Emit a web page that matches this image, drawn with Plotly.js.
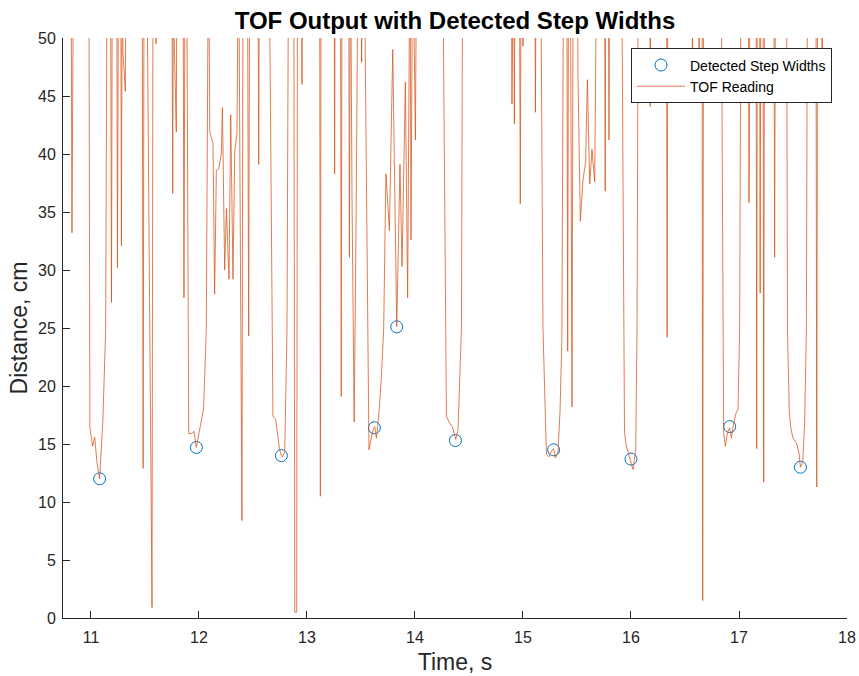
<!DOCTYPE html>
<html>
<head>
<meta charset="utf-8">
<script src="https://cdn.plot.ly/plotly-3.0.1.min.js"></script>
<style>
  html, body { margin: 0; padding: 0; background: #ffffff; }
  #chart { width: 859px; height: 676px; }
</style>
</head>
<body>
<div id="chart"></div>
<script>
// ---- Data ----
// TOF reading (cm) vs time (s); 60 marks readings above the 50 cm axis limit
const tofTime = [
  10.78, 10.815, 10.824, 10.84, 10.98, 10.99, 11.016, 11.034, 11.056, 11.08,
  11.11, 11.136, 11.15, 11.18, 11.19, 11.198, 11.238, 11.245, 11.256, 11.275,
  11.282, 11.29, 11.296, 11.318, 11.326, 11.474, 11.483, 11.492, 11.515, 11.524,
  11.565, 11.575, 11.598, 11.602, 11.606, 11.748, 11.757, 11.764, 11.772, 11.79,
  11.797, 11.852, 11.861, 11.872, 11.885, 11.905, 11.93, 11.953, 11.976, 12.006,
  12.043, 12.068, 12.082, 12.088, 12.10, 12.13, 12.145, 12.161, 12.182, 12.207,
  12.217, 12.238, 12.254, 12.278, 12.294, 12.315, 12.331, 12.352, 12.366, 12.398,
  12.408, 12.448, 12.46, 12.47, 12.545, 12.553, 12.56, 12.648, 12.685, 12.71,
  12.745, 12.763, 12.772, 12.794, 12.815, 12.83, 12.878, 12.887, 12.905, 12.912,
  12.948, 12.954, 12.96, 13.117, 13.124, 13.131, 13.25, 13.256, 13.262, 13.31,
  13.317, 13.325, 13.385, 13.393, 13.402, 13.417, 13.437, 13.454, 13.475, 13.50,
  13.506, 13.512, 13.528, 13.574, 13.611, 13.627, 13.643, 13.648, 13.667, 13.689,
  13.71, 13.731, 13.763, 13.794, 13.831, 13.861, 13.88, 13.911, 13.932, 13.954,
  13.963, 13.979, 14.004, 14.016, 14.255, 14.291, 14.321, 14.346, 14.36, 14.377,
  14.398, 14.43, 14.442, 14.89, 14.898, 14.906, 14.914, 14.92, 14.928, 14.966,
  14.975, 14.984, 14.995, 15.0, 15.006, 15.108, 15.115, 15.122, 15.163, 15.185,
  15.217, 15.24, 15.265, 15.284, 15.30, 15.324, 15.343, 15.36, 15.377, 15.405,
  15.414, 15.422, 15.442, 15.454, 15.465, 15.505, 15.509, 15.531, 15.556, 15.58,
  15.596, 15.618, 15.639, 15.664, 15.685, 15.755, 15.761, 15.768, 15.79, 15.796,
  15.803, 15.912, 15.93, 15.94, 15.957, 15.988, 16.019, 16.044, 16.056, 16.068,
  16.172, 16.178, 16.185, 16.328, 16.335, 16.342, 16.564, 16.569, 16.574, 16.625,
  16.631, 16.638, 16.658, 16.664, 16.672, 16.834, 16.858, 16.874, 16.893, 16.914,
  16.93, 16.944, 16.97, 16.991, 17.006, 17.02, 17.085, 17.093, 17.103, 17.158,
  17.164, 17.17, 17.19, 17.196, 17.203, 17.222, 17.229, 17.236, 17.322, 17.33,
  17.338, 17.44, 17.449, 17.465, 17.479, 17.5, 17.531, 17.556, 17.569, 17.59,
  17.608, 17.624, 17.635, 17.712, 17.72, 17.728, 17.765, 17.77, 17.775, 17.80
];
const tofDist = [
  60, 60, 33.2, 60, 60, 16.4, 14.8, 15.6, 13.4, 12.0,
  17.0, 24.9, 60, 60, 27.2, 60, 60, 30.2, 60, 60,
  32.1, 60, 48.8, 45.4, 60, 60, 12.9, 60, 60, 47.7,
  0.9, 60, 60, 49.5, 60, 60, 36.6, 60, 49.2, 41.9,
  60, 60, 27.6, 60, 60, 15.9, 15.9, 16.1, 14.7, 16.2,
  18.1, 24.9, 60, 60, 41.9, 40.9, 27.9, 38.6, 38.7, 40.0,
  44.0, 30.0, 35.3, 29.2, 43.4, 29.2, 40.2, 41.8, 60, 8.4,
  60, 60, 24.3, 60, 60, 39.1, 60, 60, 17.4, 17.1,
  14.6, 14.0, 13.9, 14.3, 24.9, 60, 60, 0.5, 0.5, 60,
  60, 46.0, 60, 60, 10.5, 60, 60, 38.3, 60, 60,
  19.1, 60, 60, 31.1, 60, 36.2, 16.9, 33.4, 60, 60,
  47.9, 60, 60, 14.5, 16.2, 16.5, 15.5, 16.0, 17.7, 20.8,
  24.9, 38.3, 33.4, 49.0, 25.1, 39.1, 30.3, 46.2, 27.6, 60,
  32.6, 60, 41.2, 60, 60, 17.4, 16.8, 16.5, 15.9, 15.4,
  16.2, 24.9, 60, 60, 44.3, 60, 60, 42.6, 60, 60,
  35.7, 60, 60, 49.3, 60, 60, 43.6, 60, 60, 25.0,
  14.1, 13.9, 14.4, 14.6, 13.8, 14.3, 17.8, 24.0, 60, 60,
  23.0, 60, 49.3, 18.2, 60, 60, 46.8, 34.2, 37.8, 39.3,
  46.4, 37.4, 40.4, 37.6, 60, 60, 36.8, 60, 60, 41.2,
  60, 60, 24.9, 16.0, 14.8, 13.9, 12.8, 14.5, 24.9, 60,
  60, 44.1, 60, 60, 24.2, 60, 60, 46.0, 60, 60,
  44.4, 60, 60, 1.5, 60, 60, 16.0, 14.8, 16.0, 16.4,
  15.5, 16.4, 17.6, 18.0, 24.9, 60, 60, 35.8, 60, 60,
  14.6, 60, 60, 28.0, 60, 60, 11.7, 60, 60, 31.1,
  60, 60, 24.9, 18.0, 16.4, 15.5, 15.1, 14.2, 13.0, 13.4,
  16.9, 24.9, 60, 60, 11.3, 60, 60, 45.0, 60, 60
];
// Detected step widths (markers)
const stepTime = [11.08, 11.976, 12.763, 13.624, 13.831, 14.374, 15.284, 16.0, 16.914, 17.569];
const stepDist = [12.0, 14.7, 14.0, 16.4, 25.1, 15.3, 14.5, 13.7, 16.5, 13.0];
// Axis ticks
const xTicks = [11, 12, 13, 14, 15, 16, 17, 18];
const yTicks = [0, 5, 10, 15, 20, 25, 30, 35, 40, 45, 50];

const FONT = 'Arial, "Liberation Sans", Helvetica, sans-serif';
const AXC = '#262626';

const traces = [
  {
    type: 'scatter', mode: 'markers', name: 'Detected Step Widths',
    x: stepTime, y: stepDist,
    marker: { symbol: 'circle-open', size: 12, color: '#0072BD', line: { width: 1, color: '#0072BD' } },
    hoverinfo: 'x+y'
  },
  {
    type: 'scatter', mode: 'lines', name: 'TOF Reading',
    x: tofTime, y: tofDist,
    line: { color: 'rgba(217,83,25,0.85)', width: 0.9 },
    hoverinfo: 'x+y'
  }
];

const layout = {
  width: 859, height: 676,
  margin: { l: 63, r: 12, t: 38, b: 58, pad: 0 },
  paper_bgcolor: '#ffffff', plot_bgcolor: '#ffffff',
  font: { family: FONT, color: AXC },
  showlegend: true,
  title: {
    text: '<b>TOF Output with Detected Step Widths</b>',
    font: { family: FONT, size: 24, color: '#000000' },
    xref: 'paper', x: 0.5, xanchor: 'center',
    yref: 'container', y: 0.969, yanchor: 'middle'
  },
  xaxis: {
    range: [10.741, 18], tickvals: xTicks, ticktext: xTicks.map(String),
    ticks: 'inside', ticklen: 7, tickwidth: 1, tickcolor: AXC,
    showline: true, linecolor: AXC, linewidth: 1, mirror: false,
    showgrid: false, zeroline: false,
    ticklabelstandoff: 5,
    tickfont: { family: FONT, size: 16, color: AXC },
    title: { text: 'Time, s', font: { family: FONT, size: 23, color: AXC }, standoff: 8 },
    automargin: false
  },
  yaxis: {
    range: [0, 50], tickvals: yTicks, ticktext: yTicks.map(String),
    ticks: 'inside', ticklen: 7, tickwidth: 1, tickcolor: AXC,
    showline: true, linecolor: AXC, linewidth: 1, mirror: false,
    showgrid: false, zeroline: false,
    ticklabelstandoff: 3,
    tickfont: { family: FONT, size: 16, color: AXC },
    title: { text: 'Distance, cm', font: { family: FONT, size: 23, color: AXC }, standoff: 3 },
    automargin: false
  },
  legend: {
    x: 0.7245, y: 0.982, xanchor: 'left', yanchor: 'top',
    bgcolor: '#ffffff', bordercolor: AXC, borderwidth: 1,
    font: { family: FONT, size: 14, color: '#000000' },
    itemwidth: 48, tracegroupgap: 0
  }
};

Plotly.newPlot('chart', traces, layout, { displayModeBar: false, staticPlot: true });
</script>
</body>
</html>
